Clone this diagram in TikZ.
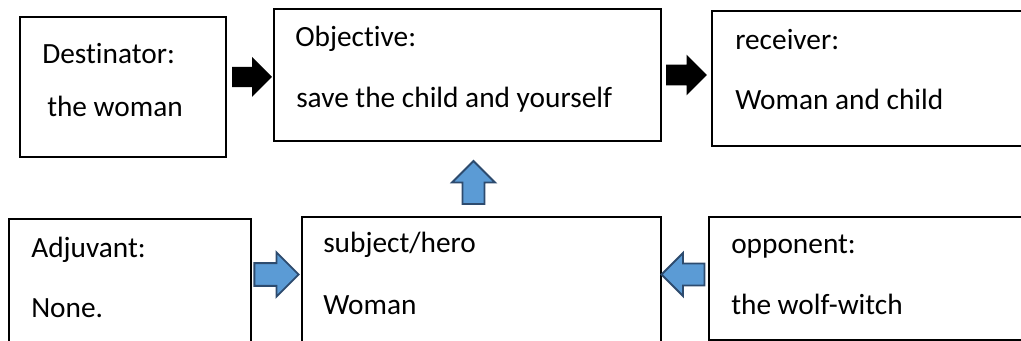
\documentclass[tikz,border=0pt]{standalone}
\usepackage{fontspec}
\setmainfont{Carlito}[Ligatures=NoCommon]
\usetikzlibrary{positioning}
\definecolor{arrowblue}{RGB}{91, 155, 213}
\definecolor{arrowedge}{RGB}{45, 75, 110}
\newlength{\pxu}
\setlength{\pxu}{0.75pt}

\begin{document}
\begin{tikzpicture}[x=0.75pt, y=-0.75pt,
  box/.style={draw, line width=1.3pt, rectangle, inner sep=0pt},
  lbl/.style={anchor=base west, inner sep=0pt, font=\fontsize{22}{26}\selectfont},
  blackarrow/.style={fill=black, draw=none},
  bluearrow/.style={fill=arrowblue, draw=arrowedge, line width=1.4pt, line join=miter},
  blockarrow/.pic={\path[pic actions] (-21.5,-11) -- (0,-11) -- (0,-21.5) -- (21.5,0) -- (0,21.5) -- (0,11) -- (-21.5,11) -- cycle;}]
  \clip (0,0) rectangle (1021,341);

  % Top row
  \node[box, minimum width=206\pxu, minimum height=140\pxu] (dest) at (123, 87) {};
  \node[box, minimum width=387\pxu, minimum height=132\pxu] (obj) at (467.5, 75) {};
  \node[box, minimum width=318\pxu, minimum height=135\pxu] (recv) at (871, 78.5) {};
  \node[lbl] (desttitle) at (42, 64) {Destinator:};
  \node[lbl] (destname) at (47, 117) {the woman};
  \node[lbl] (objtitle) at (295, 47) {Objective:};
  \node[lbl] (objname) at (296, 108) {save the child and yourself};
  \node[lbl] (recvtitle) at (735, 50) {receiver:};
  \node[lbl] (recvname) at (735, 110) {Woman and child};

  % Bottom row
  \node[box, minimum width=242\pxu, minimum height=141\pxu] (adj) at (130, 289.5) {};
  \node[box, minimum width=359\pxu, minimum height=143\pxu] (subj) at (481.5, 288.5) {};
  \node[box, minimum width=321\pxu, minimum height=123\pxu] (opp) at (869.5, 278.5) {};
  \node[lbl] (adjtitle) at (31, 258) {Adjuvant:};
  \node[lbl] (adjname) at (31, 318) {None.};
  \node[lbl] (subjtitle) at (323, 253) {subject/hero};
  \node[lbl] (subjname) at (323, 315) {Woman};
  \node[lbl] (opptitle) at (731, 254) {opponent:};
  \node[lbl] (oppname) at (731, 315) {the wolf-witch};

  % Block arrows
  \pic[blackarrow, scale=0.93] at (252, 77) {blockarrow};
  \pic[blackarrow, scale=0.95] at (686.5, 75) {blockarrow};
  \pic[bluearrow, scale=1.03] at (276.5, 274.5) {blockarrow};
  \pic[bluearrow, rotate=90] at (473.5, 182.5) {blockarrow};
  \pic[bluearrow, rotate=180] at (683, 274.5) {blockarrow};
\end{tikzpicture}
\end{document}
